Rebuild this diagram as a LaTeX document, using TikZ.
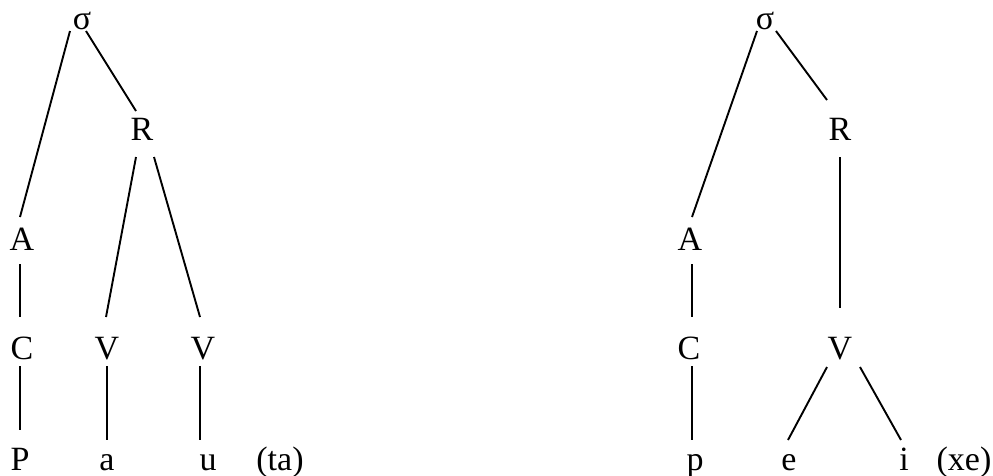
\documentclass[tikz,border=0pt]{standalone}
\usepackage{fontspec}
\setmainfont{Liberation Serif}
\begin{document}
\begin{tikzpicture}[x=1pt,y=-1pt,
  lbl/.style={anchor=base,inner sep=0pt,font=\fontsize{34}{40}\selectfont},
  edge/.style={line width=1.9pt}]
\useasboundingbox (0,0) rectangle (993,475);
% left tree
\node[lbl] (s1) at (82,29) {σ};
\node[lbl] (R1) at (142,140) {R};
\node[lbl] (A1) at (22,250) {A};
\node[lbl] (C1) at (22,359) {C};
\node[lbl] (V1) at (107,359) {V};
\node[lbl] (V2) at (203,359) {V};
\node[lbl] (P) at (20,470) {P};
\node[lbl] (a) at (107,470) {a};
\node[lbl] (u) at (208,470) {u};
\node[lbl] (ta) at (280,470) {(ta)};
\draw[edge] ([shift={(-12,2)}]s1.base) -- ([shift={(-2,-33)}]A1.base);
\draw[edge] ([shift={(4,2)}]s1.base) -- ([shift={(-6,-29)}]R1.base);
\draw[edge] ([shift={(-6,17)}]R1.base) -- ([shift={(-1,-42)}]V1.base);
\draw[edge] ([shift={(12,17)}]R1.base) -- ([shift={(-3,-42)}]V2.base);
\draw[edge] ([shift={(-2,14)}]A1.base) -- ([shift={(-2,-42)}]C1.base);
\draw[edge] ([shift={(-2,7)}]C1.base) -- ([shift={(0,-40)}]P.base);
\draw[edge] ([shift={(0,7)}]V1.base) -- ([shift={(0,-30)}]a.base);
\draw[edge] ([shift={(-3,7)}]V2.base) -- ([shift={(-8,-30)}]u.base);
% right tree
\node[lbl] (s2) at (765,29) {σ};
\node[lbl] (R2) at (840,140) {R};
\node[lbl] (A2) at (690,250) {A};
\node[lbl] (C2) at (689,359) {C};
\node[lbl] (V3) at (840,359) {V};
\node[lbl] (p) at (695,470) {p};
\node[lbl] (e) at (789,470) {e};
\node[lbl] (i) at (904,470) {i};
\node[lbl] (xe) at (964,470) {(xe)};
\draw[edge] ([shift={(-8,2)}]s2.base) -- ([shift={(2,-33)}]A2.base);
\draw[edge] ([shift={(11,2)}]s2.base) -- ([shift={(-13,-40)}]R2.base);
\draw[edge] ([shift={(0,17)}]R2.base) -- ([shift={(0,-51)}]V3.base);
\draw[edge] ([shift={(2,14)}]A2.base) -- ([shift={(3,-42)}]C2.base);
\draw[edge] ([shift={(3,7)}]C2.base) -- ([shift={(-3,-30)}]p.base);
\draw[edge] ([shift={(-13,8)}]V3.base) -- ([shift={(-1,-30)}]e.base);
\draw[edge] ([shift={(20,8)}]V3.base) -- ([shift={(-3,-30)}]i.base);
\end{tikzpicture}
\end{document}
